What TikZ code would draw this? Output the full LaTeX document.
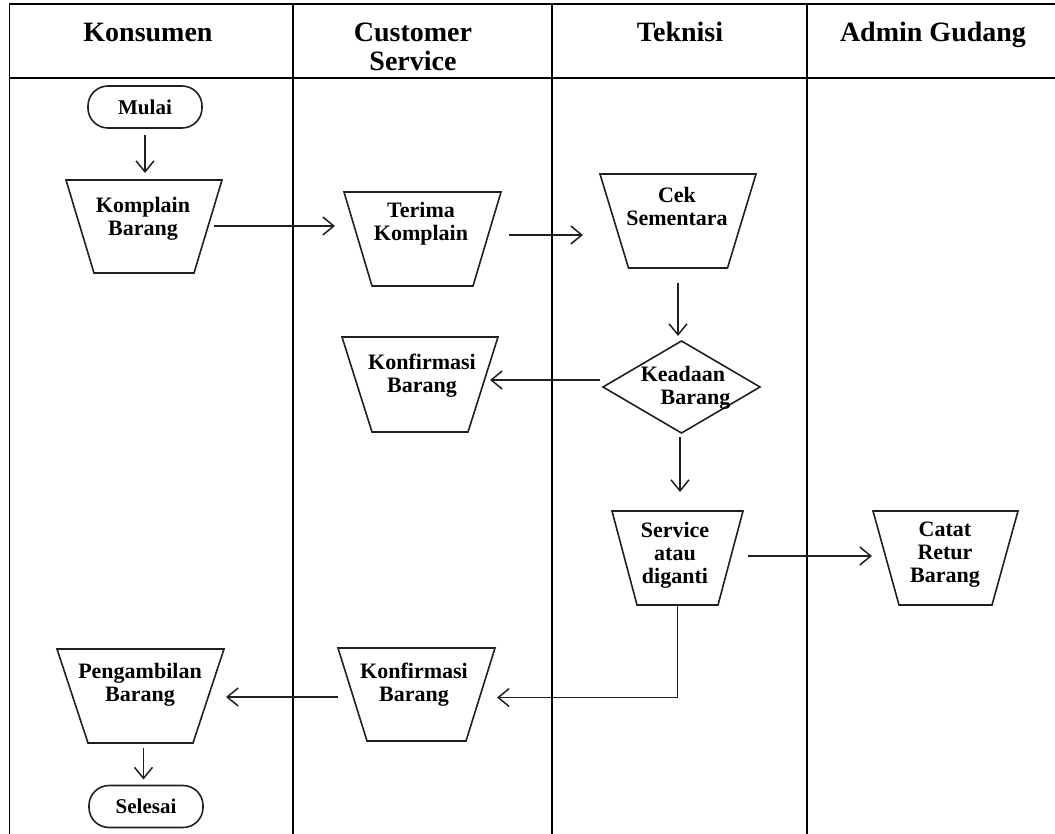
\documentclass[tikz,border=0pt]{standalone}
\usepackage{fontspec}
\setmainfont{Liberation Serif}
\usetikzlibrary{arrows.meta,calc}
\definecolor{ln}{HTML}{202020}
\tikzset{
  tbl/.style={line width=1.9pt, black},
  shp/.style={line width=1.6pt, ln},
  arr/.style={line width=1.5pt, ln, -{Straight Barb[length=11pt,width=18pt]}},
  box/.style={draw=none, inner sep=0pt, outer sep=0pt, minimum width=#1},
  txt/.style={inner sep=0pt, align=center, font=\bfseries\fontsize{22}{23}\selectfont},
  hdr/.style={inner sep=0pt, align=center, anchor=base, font=\bfseries\fontsize{28}{29}\selectfont},
  term/.style={draw, line width=1.6pt, ln, text=black, rounded corners=20pt, inner sep=0pt, outer sep=0pt,
    minimum width=114pt, minimum height=42pt, font=\bfseries\fontsize{21}{22}\selectfont}
}
\newcommand\trapout[2]{\draw[shp] (#1.north west) -- (#1.north east) -- ($(#1.south east)+(-#2,0)$) -- ($(#1.south west)+(#2,0)$) -- cycle;}
\begin{document}
\begin{tikzpicture}[x=1pt,y=-1pt]
\useasboundingbox (0,0) rectangle (1055,834);
% table
\draw[tbl] (9.5,834) -- (9.5,4) -- (1055,4);
\draw[tbl] (9.5,78) -- (1055,78);
\draw[tbl] (293,4) -- (293,834);
\draw[tbl] (552,4) -- (552,834);
\draw[tbl] (807,4) -- (807,834);
% headers
\node[hdr] (h1) at (148,42) {Konsumen};
\node[hdr] (h2) at (413,71) {Customer\\Service};
\node[hdr] (h3) at (680,42) {Teknisi};
\node[hdr] (h4) at (933,42) {Admin Gudang};
% terminals
\node[term] (mu) at (145,107) {Mulai};
\node[term] (se) at (146,806.5) {Selesai};
% trapezoid boxes
\node[box=156pt, minimum height=93pt] (kb) at (144,226.5) {};
\node[box=157pt, minimum height=94pt] (tk) at (422.5,239) {};
\node[box=156pt, minimum height=94pt] (cs) at (678,221) {};
\node[box=156pt, minimum height=95pt] (kf1) at (420,384.5) {};
\node[box=131pt, minimum height=94pt] (sd) at (677.5,558) {};
\node[box=145pt, minimum height=94pt] (cr) at (945.5,558) {};
\node[box=157pt, minimum height=93pt] (kf2) at (416.5,694.5) {};
\node[box=167pt, minimum height=94pt] (pb) at (140.5,696) {};
\node[box=157pt, minimum height=92pt] (kd) at (681.5,387) {};
\trapout{kb}{28}
\trapout{tk}{28}
\trapout{cs}{28.5}
\trapout{kf1}{30}
\trapout{sd}{25}
\trapout{cr}{26}
\trapout{kf2}{29}
\trapout{pb}{31}
\draw[shp] (kd.north) -- (kd.east) -- (kd.south) -- (kd.west) -- cycle;
% texts
\node[txt] (kbT) at (143,219) {Komplain\\Barang};
\node[txt] (tkT) at (421,224) {Terima\\Komplain};
\node[txt] (csT) at (677,206) {Cek\\Sementara};
\node[txt] (kf1T) at (422,376) {Konfirmasi\\Barang};
\node[txt] (sdT) at (675,555) {Service\\atau\\diganti};
\node[txt] (crT) at (945,555) {Catat\\Retur\\Barang};
\node[txt] (kf2T) at (414,685) {Konfirmasi\\Barang};
\node[txt] (pbT) at (140,685) {Pengambilan\\Barang};
\node[txt] (kdT) at (683,388) {Keadaan\\\hspace*{25pt}Barang};
% connectors
\draw[arr] ($(mu.south)+(0,7)$) -- ($(mu.south |- kb.north)+(0,-7)$);
\draw[arr] ($(kb.east)+(-8,-0.5)$) -- ($(tk.west |- kb.east)+(-9,-0.5)$);
\draw[arr] ($(tk.east)+(8,-4)$) -- ($(cs.west |- tk.east)+(-17,-4)$);
\draw[arr] ($(cs.south)+(0,15)$) -- ($(cs.south |- kd.north)+(0,-5)$);
\draw[arr] ($(kd.west)+(-3,-7)$) -- ($(kf1.east |- kd.west)+(-8,-7)$);
\draw[arr] ($(kd.south)+(-1.5,4)$) -- ($(kd.south |- sd.north)+(-1.5,-19)$);
\draw[arr] ($(sd.east)+(5,-2)$) -- ($(cr.west)+(-1,-2)$);
\draw[arr] (sd.south) -- ($(sd.south |- kf2.east)+(0,3)$) -- ($(kf2.east)+(2,3)$);
\draw[arr] ($(kf2.west)+(0,2.5)$) -- ($(pb.east |- kf2.west)+(2,2.5)$);
\draw[arr] ($(pb.south)+(3,5)$) -- ($(pb.south |- se.north)+(3,-6)$);
\end{tikzpicture}
\end{document}
